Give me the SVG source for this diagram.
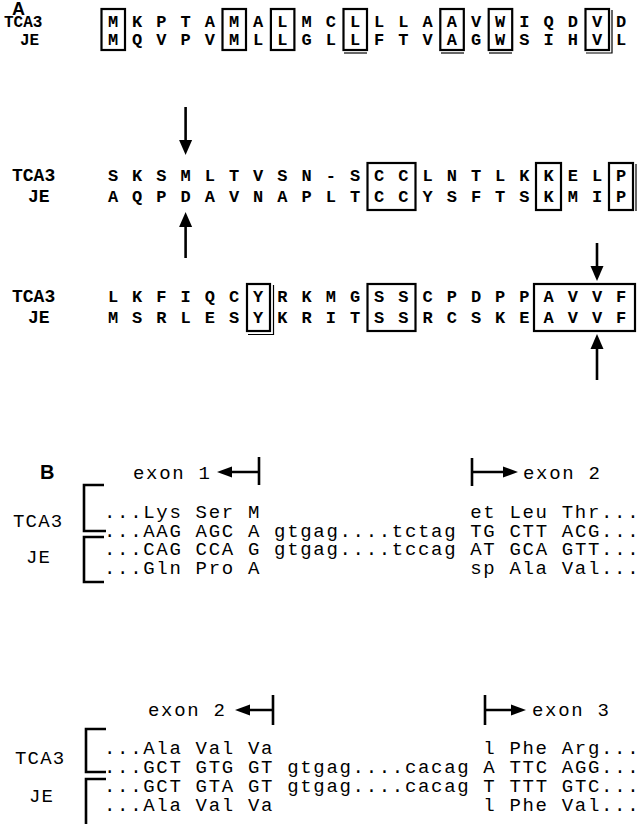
<svg xmlns="http://www.w3.org/2000/svg" width="643" height="824" viewBox="0 0 643 824">
<style>
.lab{font-family:"Liberation Sans",Arial,sans-serif;font-weight:bold;font-size:18px}
.labb{font-family:"Liberation Sans",Arial,sans-serif;font-weight:bold;font-size:20px}
.a{font-family:"Liberation Mono","Courier New",monospace;font-size:17px;font-weight:bold;text-anchor:middle}
.al1{font-family:"Liberation Mono","Courier New",monospace;font-size:16px;font-weight:bold}
.al{font-family:"Liberation Mono","Courier New",monospace;font-size:18px;font-weight:bold}
.b{font-family:"Liberation Mono","Courier New",monospace;font-size:19px;letter-spacing:1.68px}
.bl{font-family:"Liberation Mono","Courier New",monospace;font-size:19px;letter-spacing:1.2px}
.box{fill:none;stroke:#000;stroke-width:2.2}
.thin{fill:none;stroke:#000;stroke-width:1.2}
.ln{stroke:#000;stroke-width:2.6;fill:none}
</style>
<defs>
<polygon id="hd" points="-6.5,0 6.5,0 0,15" fill="#000"/>
<polygon id="hu" points="-6.5,0 6.5,0 0,-15" fill="#000"/>
<polygon id="hl" points="0,0 15,-5.5 15,5.5" fill="#000"/>
<polygon id="hr" points="0,0 -15,-5.5 -15,5.5" fill="#000"/>
</defs>
<text class="lab" x="12" y="15">A</text>
<g id="rowA1">
<text class="al1" x="4" y="27">TCA3</text>
<text class="al1" x="20" y="45">JE</text>
<g class="a">
<text y="27"><tspan x="113">M</tspan><tspan x="137.2">K</tspan><tspan x="161.4">P</tspan><tspan x="185.6">T</tspan><tspan x="209.8">A</tspan><tspan x="234">M</tspan><tspan x="258.2">A</tspan><tspan x="282.4">L</tspan><tspan x="306.6">M</tspan><tspan x="330.8">C</tspan><tspan x="355">L</tspan><tspan x="379.2">L</tspan><tspan x="403.4">L</tspan><tspan x="427.6">A</tspan><tspan x="451.8">A</tspan><tspan x="476">V</tspan><tspan x="500.2">W</tspan><tspan x="524.4">I</tspan><tspan x="548.6">Q</tspan><tspan x="572.8">D</tspan><tspan x="597">V</tspan><tspan x="621.2">D</tspan></text>
<text y="45"><tspan x="113">M</tspan><tspan x="137.2">Q</tspan><tspan x="161.4">V</tspan><tspan x="185.6">P</tspan><tspan x="209.8">V</tspan><tspan x="234">M</tspan><tspan x="258.2">L</tspan><tspan x="282.4">L</tspan><tspan x="306.6">G</tspan><tspan x="330.8">L</tspan><tspan x="355">L</tspan><tspan x="379.2">F</tspan><tspan x="403.4">T</tspan><tspan x="427.6">V</tspan><tspan x="451.8">A</tspan><tspan x="476">G</tspan><tspan x="500.2">W</tspan><tspan x="524.4">S</tspan><tspan x="548.6">I</tspan><tspan x="572.8">H</tspan><tspan x="597">V</tspan><tspan x="621.2">L</tspan></text>
</g>
<rect class="box" x="101.5" y="9" width="23.5" height="41"/>
<rect class="box" x="222.5" y="9" width="23.5" height="41"/>
<rect class="box" x="270.9" y="9" width="23.5" height="41"/>
<rect class="box" x="343.5" y="9" width="23.5" height="41"/>
<path class="thin" d="M344 53H367"/>
<rect class="box" x="440.3" y="9" width="23.5" height="41"/>
<path class="thin" d="M441 53H464"/>
<rect class="box" x="488.7" y="9" width="23.5" height="41"/>
<path class="thin" d="M489 53H512"/>
<rect class="box" x="585.5" y="9" width="23.5" height="41"/>
<path class="thin" d="M586 53H612V10"/>
</g>
<g id="rowA2">
<text class="al" x="12" y="181">TCA3</text>
<text class="al" x="28" y="202">JE</text>
<g class="a">
<text y="181"><tspan x="113">S</tspan><tspan x="137.2">K</tspan><tspan x="161.4">S</tspan><tspan x="185.6">M</tspan><tspan x="209.8">L</tspan><tspan x="234">T</tspan><tspan x="258.2">V</tspan><tspan x="282.4">S</tspan><tspan x="306.6">N</tspan><tspan x="330.8">-</tspan><tspan x="355">S</tspan><tspan x="379.2">C</tspan><tspan x="403.4">C</tspan><tspan x="427.6">L</tspan><tspan x="451.8">N</tspan><tspan x="476">T</tspan><tspan x="500.2">L</tspan><tspan x="524.4">K</tspan><tspan x="548.6">K</tspan><tspan x="572.8">E</tspan><tspan x="597">L</tspan><tspan x="621.2">P</tspan></text>
<text y="202"><tspan x="113">A</tspan><tspan x="137.2">Q</tspan><tspan x="161.4">P</tspan><tspan x="185.6">D</tspan><tspan x="209.8">A</tspan><tspan x="234">V</tspan><tspan x="258.2">N</tspan><tspan x="282.4">A</tspan><tspan x="306.6">P</tspan><tspan x="330.8">L</tspan><tspan x="355">T</tspan><tspan x="379.2">C</tspan><tspan x="403.4">C</tspan><tspan x="427.6">Y</tspan><tspan x="451.8">S</tspan><tspan x="476">F</tspan><tspan x="500.2">T</tspan><tspan x="524.4">S</tspan><tspan x="548.6">K</tspan><tspan x="572.8">M</tspan><tspan x="597">I</tspan><tspan x="621.2">P</tspan></text>
</g>
<rect class="box" x="367.5" y="163" width="48" height="47"/>
<rect class="box" x="536" y="163" width="25" height="47"/>
<rect class="box" x="609" y="163" width="24" height="47"/>
<path class="thin" d="M636 164V211"/>
</g>
<g id="rowA3">
<text class="al" x="12" y="302">TCA3</text>
<text class="al" x="28" y="323">JE</text>
<g class="a">
<text y="302"><tspan x="113">L</tspan><tspan x="137.2">K</tspan><tspan x="161.4">F</tspan><tspan x="185.6">I</tspan><tspan x="209.8">Q</tspan><tspan x="234">C</tspan><tspan x="258.2">Y</tspan><tspan x="282.4">R</tspan><tspan x="306.6">K</tspan><tspan x="330.8">M</tspan><tspan x="355">G</tspan><tspan x="379.2">S</tspan><tspan x="403.4">S</tspan><tspan x="427.6">C</tspan><tspan x="451.8">P</tspan><tspan x="476">D</tspan><tspan x="500.2">P</tspan><tspan x="524.4">P</tspan><tspan x="548.6">A</tspan><tspan x="572.8">V</tspan><tspan x="597">V</tspan><tspan x="621.2">F</tspan></text>
<text y="323"><tspan x="113">M</tspan><tspan x="137.2">S</tspan><tspan x="161.4">R</tspan><tspan x="185.6">L</tspan><tspan x="209.8">E</tspan><tspan x="234">S</tspan><tspan x="258.2">Y</tspan><tspan x="282.4">K</tspan><tspan x="306.6">R</tspan><tspan x="330.8">I</tspan><tspan x="355">T</tspan><tspan x="379.2">S</tspan><tspan x="403.4">S</tspan><tspan x="427.6">R</tspan><tspan x="451.8">C</tspan><tspan x="476">S</tspan><tspan x="500.2">K</tspan><tspan x="524.4">E</tspan><tspan x="548.6">A</tspan><tspan x="572.8">V</tspan><tspan x="597">V</tspan><tspan x="621.2">F</tspan></text>
</g>
<rect class="box" x="247" y="284" width="23" height="47"/>
<path class="thin" d="M248 334.5H273.5V285"/>
<rect class="box" x="367.5" y="284" width="48" height="47"/>
<rect class="box" x="534" y="284" width="101" height="47"/>
</g>
<g id="connectors">
<path class="ln" d="M185.6 107V142"/><use href="#hd" x="185.6" y="140"/>
<path class="ln" d="M185.6 225V258"/><use href="#hu" x="185.6" y="227"/>
<path class="ln" d="M597 243V268"/><use href="#hd" x="597" y="266"/>
<path class="ln" d="M597 347V380"/><use href="#hu" x="597" y="349"/>
</g>
<text class="labb" x="40" y="479">B</text>
<g id="exons1">
<text class="b" x="133" y="479">exon 1</text>
<use href="#hl" x="217" y="472"/><path class="ln" d="M230 472H259M259 457V485"/>
<path class="ln" d="M472 458V486M472 472H504"/><use href="#hr" x="518" y="472"/>
<text class="b" x="523" y="479">exon 2</text>
</g>
<g id="seqB1" class="b">
<text x="104" y="518">...Lys Ser M</text>
<text x="470.2" y="518">et Leu Thr...</text>
<text x="104" y="536.5">...AAG AGC A gtgag....tctag TG CTT ACG...</text>
<text x="104" y="555">...CAG CCA G gtgag....tccag AT GCA GTT...</text>
<text x="104" y="573.5">...Gln Pro A</text>
<text x="470.2" y="573.5">sp Ala Val...</text>
</g>
<g id="labelsB1" class="bl">
<text x="13" y="527">TCA3</text>
<text x="26" y="563">JE</text>
</g>
<path class="ln" d="M104 485H84V531H106M104 537H84V582H104"/>
<g id="exons2">
<text class="b" x="148" y="716">exon 2</text>
<use href="#hl" x="235" y="710"/><path class="ln" d="M248 710H273M273 695V725"/>
<path class="ln" d="M485 695V725M485 710H512"/><use href="#hr" x="526" y="710"/>
<text class="b" x="532" y="716">exon 3</text>
</g>
<g id="seqB2" class="b">
<text x="104" y="754">...Ala Val Va</text>
<text x="483.3" y="754">l Phe Arg...</text>
<text x="104" y="773">...GCT GTG GT gtgag....cacag A TTC AGG...</text>
<text x="104" y="792">...GCT GTA GT gtgag....cacag T TTT GTC...</text>
<text x="104" y="810.5">...Ala Val Va</text>
<text x="483.3" y="810.5">l Phe Val...</text>
</g>
<g id="labelsB2" class="bl">
<text x="15" y="764">TCA3</text>
<text x="29" y="802">JE</text>
</g>
<path class="ln" d="M106 729H86V772H106M106 779H86V824"/>
</svg>
